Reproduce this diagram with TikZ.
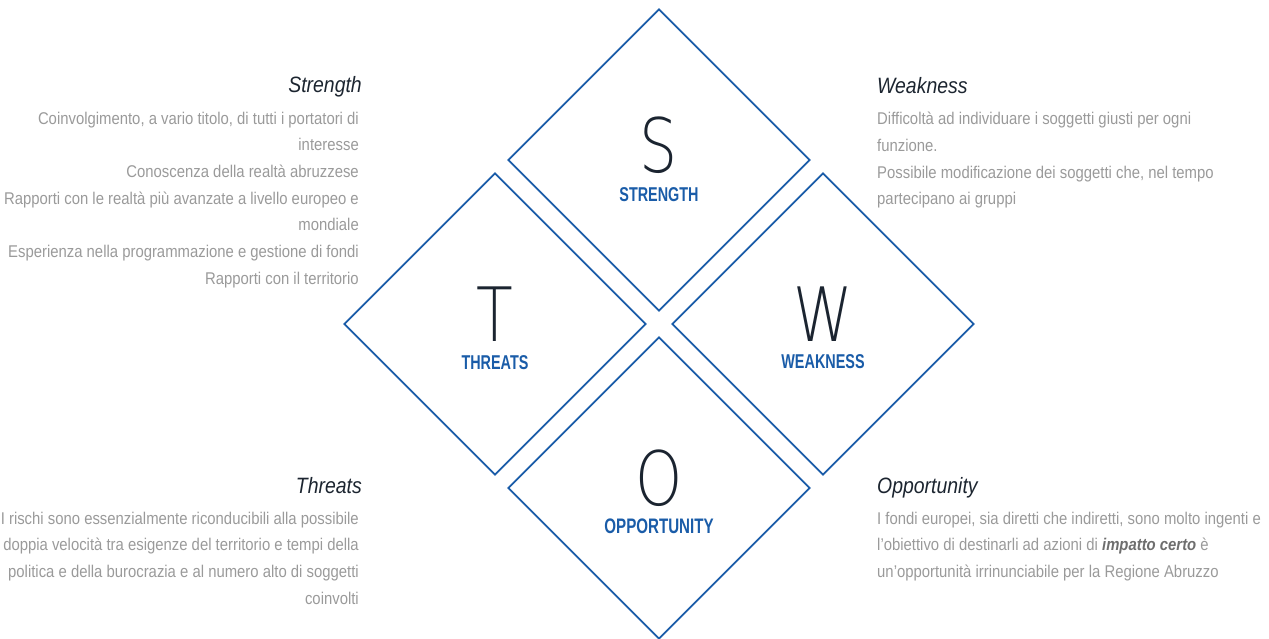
\documentclass[tikz,border=0pt]{standalone}
\usepackage{fontspec}
\setmainfont{Liberation Sans}[FakeStretch=0.875]
\newfontfamily\tagfont{Liberation Sans}[FakeStretch=0.72]
\newfontfamily\thinfont{DejaVu Sans ExtraLight}[FakeStretch=0.8]
\usetikzlibrary{positioning, shapes.geometric}

\definecolor{swotblue}{HTML}{1A5CA8}
\definecolor{letterdark}{HTML}{1B2430}
\definecolor{headdark}{HTML}{1C2530}
\definecolor{notegray}{HTML}{9A9A9A}
\definecolor{stronggray}{HTML}{6E6E6E}

\begin{document}
\begin{tikzpicture}[
    x=1pt, y=-1pt,
    quad/.style={
      diamond,
      draw=swotblue,
      line width=1.8pt,
      minimum width=302pt,
      minimum height=302pt,
      inner sep=0pt
    },
    letter/.style={
      font=\thinfont\fontsize{75}{75}\selectfont,
      text=letterdark,
      inner sep=0pt
    },
    tag/.style={
      font=\tagfont\bfseries\fontsize{20}{20}\selectfont,
      text=swotblue,
      inner sep=0pt
    },
    heading/.style={
      font=\itshape\fontsize{22.2}{22.2}\selectfont,
      text=headdark,
      inner sep=0pt
    },
    notes/.style={
      font=\fontsize{17}{26.7}\selectfont,
      text=notegray,
      inner sep=0pt
    },
]

\useasboundingbox (0,0) rectangle (1269,638);

% Diamonds
\node[quad] (s) at (659,160) {};
\node[quad] (t) at (495,324) {};
\node[quad] (w) at (823,324) {};
\node[quad] (o) at (659,488) {};

% Letters and tags
\node[letter] (sletter) at ([yshift=15pt]s.center) {S};
\node[tag] (stag) at ([yshift=-35pt]s.center) {STRENGTH};
\node[letter] (tletter) at ([yshift=10pt]t.center) {T};
\node[tag] (ttag) at ([yshift=-39pt]t.center) {THREATS};
\node[letter] (wletter) at ([yshift=10pt]w.center) {W};
\node[tag] (wtag) at ([yshift=-38pt]w.center) {WEAKNESS};
\node[letter] (oletter) at ([yshift=10pt]o.center) {O};
\node[tag, font=\tagfont\bfseries\fontsize{21}{21}\selectfont] (otag) at ([yshift=-38pt]o.center) {OPPORTUNITY};

% Strength
\node[heading, anchor=base east] (stitle) at (362,92) {Strength};
\node[notes, align=right, below left=19.5pt and 3pt of stitle.base east] (sbody) {%
  Coinvolgimento, a vario titolo, di tutti i portatori di\\
  interesse\\
  Conoscenza della realtà abruzzese\\
  Rapporti con le realtà più avanzate a livello europeo e\\
  mondiale\\
  Esperienza nella programmazione e gestione di fondi\\
  Rapporti con il territorio};

% Weakness
\node[heading, anchor=base west] (wtitle) at (877,93) {Weakness};
\node[notes, align=left, below right=19pt and 0pt of wtitle.base west] (wbody) {%
  Difficoltà ad individuare i soggetti giusti per ogni\\
  funzione.\\
  Possibile modificazione dei soggetti che, nel tempo\\
  partecipano ai gruppi};

% Threats
\node[heading, anchor=base east] (ttitle) at (362,493) {Threats};
\node[notes, align=right, below left=18.5pt and 3pt of ttitle.base east] (tbody) {%
  I rischi sono essenzialmente riconducibili alla possibile\\
  doppia velocità tra esigenze del territorio e tempi della\\
  politica e della burocrazia e al numero alto di soggetti\\
  coinvolti};

% Opportunity
\node[heading, anchor=base west] (otitle) at (877,493) {Opportunity};
\node[notes, align=left, below right=18.5pt and 0pt of otitle.base west] (obody) {%
  I fondi europei, sia diretti che indiretti, sono molto ingenti e\\
  l'obiettivo di destinarli ad azioni di \textcolor{stronggray}{\bfseries\itshape impatto certo} è\\
  un'opportunità irrinunciabile per la Regione Abruzzo};

\end{tikzpicture}
\end{document}
